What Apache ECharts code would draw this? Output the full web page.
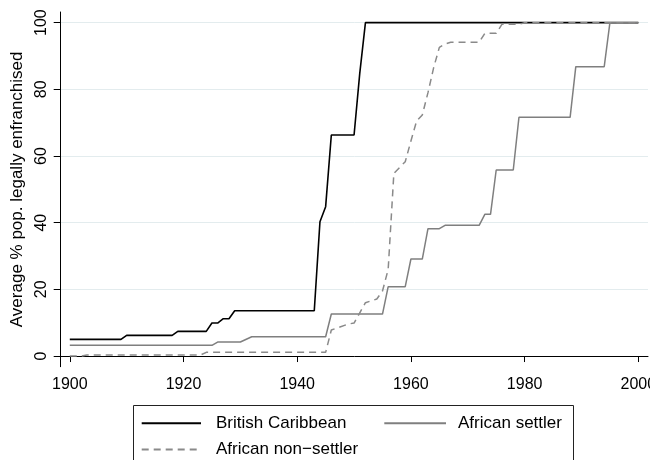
<!DOCTYPE html>
<html>
<head>
<meta charset="utf-8">
<script src="https://cdn.jsdelivr.net/npm/echarts@6/dist/echarts.min.js"></script>
<style>html,body{margin:0;padding:0;background:#fff}#c{width:650px;height:460px}</style>
</head>
<body>
<div id="c"></div>
<script>
// Data (change points; straight lines between them)
var bcYears = [1900, 1909, 1910, 1918, 1919, 1924, 1925, 1926, 1927, 1928, 1929, 1943, 1944, 1945, 1946, 1950, 1951, 1952, 2000];
var bcValues = [5.0, 5.0, 6.2, 6.2, 7.4, 7.4, 9.9, 9.9, 11.2, 11.2, 13.6, 13.6, 40.3, 44.8, 66.3, 66.3, 84.8, 100, 100];

var settlerYears = [1900, 1925, 1926, 1930, 1932, 1945, 1946, 1955, 1956, 1959, 1960, 1962, 1963, 1965, 1966, 1972, 1973, 1974, 1975, 1978, 1979, 1988, 1989, 1994, 1995, 2000];
var settlerValues = [3.2, 3.2, 4.2, 4.2, 5.8, 5.8, 12.6, 12.6, 20.8, 20.8, 29.1, 29.1, 38.2, 38.2, 39.2, 39.2, 42.5, 42.5, 55.8, 55.8, 71.6, 71.6, 86.8, 86.8, 100, 100];

var nonSettlerYears = [1900, 1902, 1903, 1923, 1924, 1945, 1946, 1949, 1950, 1952, 1954, 1955, 1956, 1957, 1959, 1960, 1961, 1962, 1963, 1964, 1965, 1966, 1967, 1972, 1973, 1975, 1976, 1979, 1980, 2000];
var nonSettlerValues = [0.0, 0.0, 0.3, 0.3, 1.1, 1.1, 7.8, 9.6, 9.9, 16.0, 17.1, 19.5, 26.0, 54.8, 58.3, 64.5, 70.5, 72.3, 79.0, 86.5, 92.6, 93.6, 94.1, 94.1, 96.8, 96.8, 99.5, 99.5, 100, 100];

var xTicks = [1900, 1920, 1940, 1960, 1980, 2000];
var yTicks = [0, 20, 40, 60, 80, 100];

var seriesNames = ['British Caribbean', 'African settler', 'African non\u2212settler'];

function pairs(xs, ys) {
  var out = [];
  for (var i = 0; i < xs.length; i++) out.push([xs[i], ys[i]]);
  return out;
}
function plain(v) { return String(v); }

var FONT = 'Liberation Sans, Arial, Helvetica, sans-serif';
var chart = echarts.init(document.getElementById('c'), null, {renderer: 'canvas'});
chart.setOption({
  animation: false,
  backgroundColor: '#fff',
  textStyle: {fontFamily: FONT},
  grid: {left: 60.7, right: 2, top: 12, bottom: 93.3, containLabel: false, outerBoundsMode: 'none'},
  xAxis: {
    type: 'value',
    min: 1898.4,
    max: 2001.7,
    axisLine: {show: true, lineStyle: {color: '#000', width: 1}},
    axisTick: {show: true, length: 6, customValues: xTicks, lineStyle: {color: '#000'}},
    axisLabel: {customValues: xTicks, formatter: plain, fontSize: 16, color: '#000', margin: 10, fontFamily: FONT, hideOverlap: false},
    splitLine: {show: false}
  },
  yAxis: {
    type: 'value',
    min: -3.2,
    max: 103.2,
    name: 'Average % pop. legally enfranchised',
    nameLocation: 'middle',
    nameGap: 24,
    nameTextStyle: {fontSize: 17, color: '#000', fontFamily: FONT},
    axisLine: {show: true, lineStyle: {color: '#000', width: 1}},
    axisTick: {show: true, length: 7, customValues: yTicks, lineStyle: {color: '#000'}},
    axisLabel: {customValues: yTicks, formatter: plain, rotate: 90, fontSize: 16, color: '#000', margin: 11, fontFamily: FONT},
    splitLine: {show: true, lineStyle: {color: '#e3ecee', width: 1}}
  },
  legend: [
    {
      data: [seriesNames[0], seriesNames[2]],
      orient: 'vertical',
      left: 140.7,
      top: 414.7,
      padding: 0,
      itemWidth: 59.3,
      itemHeight: 14,
      itemGap: 9.3,
      itemStyle: {opacity: 0},
      textStyle: {fontSize: 17, color: '#000', fontFamily: FONT, padding: [0, 0, 0, 10]}
    },
    {
      data: [seriesNames[1]],
      orient: 'vertical',
      left: 383.3,
      top: 414.7,
      padding: 0,
      itemWidth: 61.7,
      itemHeight: 14,
      itemStyle: {opacity: 0},
      textStyle: {fontSize: 17, color: '#000', fontFamily: FONT, padding: [0, 0, 0, 7]}
    }
  ],
  graphic: [{
    type: 'rect',
    shape: {x: 133.5, y: 405.5, width: 440, height: 70},
    style: {fill: 'none', stroke: '#222', lineWidth: 1},
    silent: true
  }],
  series: [
    {
      name: seriesNames[0], type: 'line', symbol: 'none', showSymbol: false,
      data: pairs(bcYears, bcValues),
      lineStyle: {color: '#000', width: 1.6},
      itemStyle: {color: '#000'}
    },
    {
      name: seriesNames[1], type: 'line', symbol: 'none', showSymbol: false,
      data: pairs(settlerYears, settlerValues),
      lineStyle: {color: '#7f7f7f', width: 1.5},
      itemStyle: {color: '#7f7f7f'}
    },
    {
      name: seriesNames[2], type: 'line', symbol: 'none', showSymbol: false,
      data: pairs(nonSettlerYears, nonSettlerValues),
      lineStyle: {color: '#8a8a8a', width: 1.5, type: [7, 5]},
      itemStyle: {color: '#8a8a8a'}
    }
  ]
});
</script>
</body>
</html>
